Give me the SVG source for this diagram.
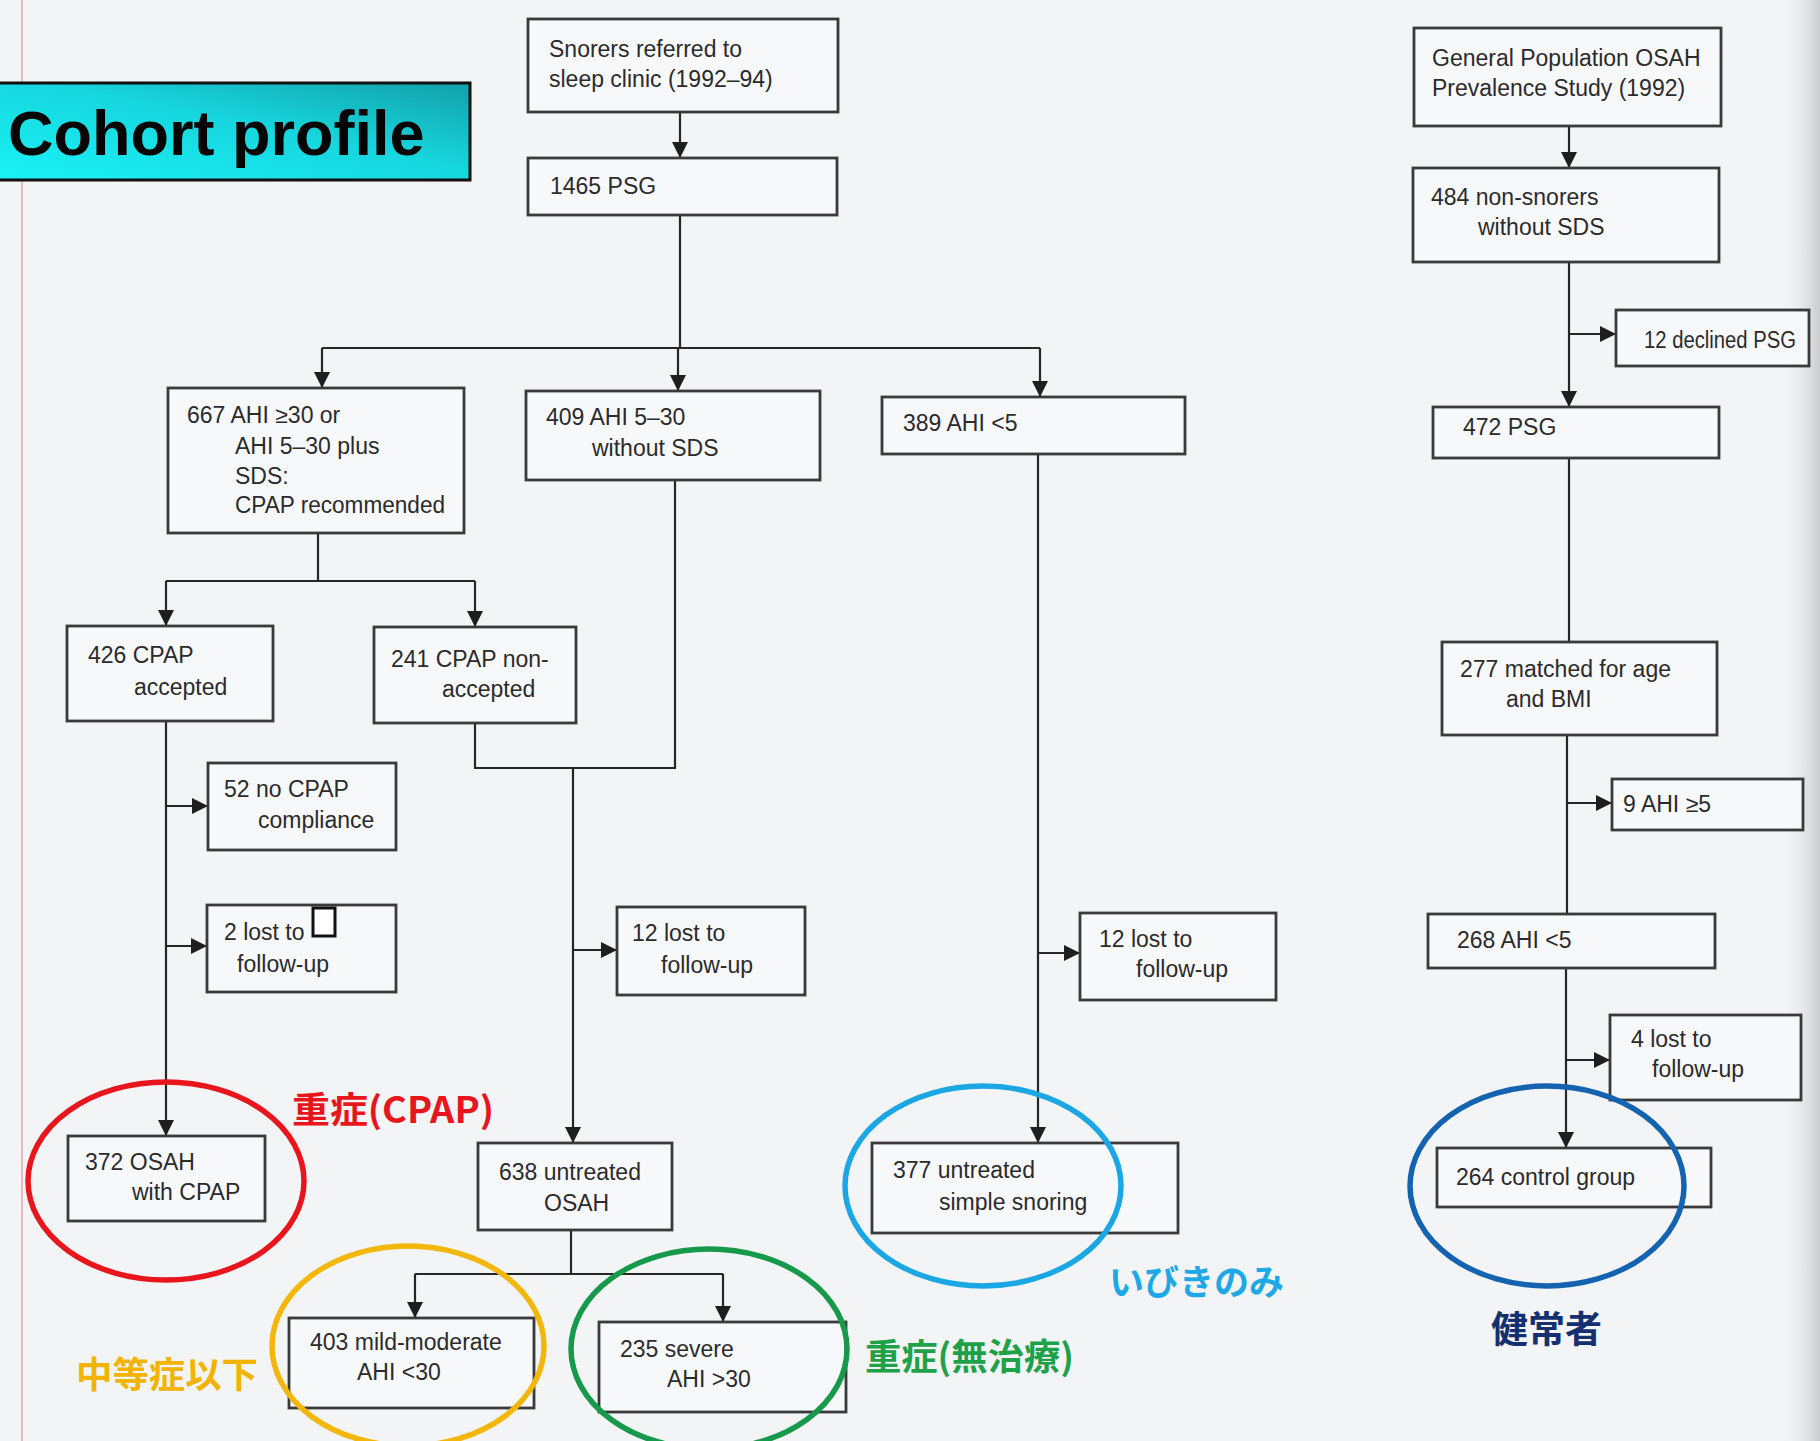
<svg xmlns="http://www.w3.org/2000/svg" width="1820" height="1441" viewBox="0 0 1820 1441">
<defs>
<linearGradient id="titleGrad" x1="0" y1="1" x2="1" y2="0">
<stop offset="0" stop-color="#1af2f6"/>
<stop offset="0.55" stop-color="#17d6de"/>
<stop offset="1" stop-color="#12a0a8"/>
</linearGradient>
<linearGradient id="edgeGrad" x1="0" y1="0" x2="1" y2="0">
<stop offset="0" stop-color="#f2f4f6" stop-opacity="0"/>
<stop offset="1" stop-color="#c9cbcd"/>
</linearGradient>
<marker id="arr" viewBox="0 0 16 16" refX="16" refY="8" markerWidth="16" markerHeight="16" markerUnits="userSpaceOnUse" orient="auto">
<path d="M0,0 L16,8 L0,16 Z" fill="#1e1e1e"/>
</marker>
<style>
.box{fill:#f7f8fa;stroke:#3a3a3a;stroke-width:2.8}
.t{font-family:"Liberation Sans","DejaVu Sans",sans-serif;font-size:23px;fill:#2b2b2b}
.ln{fill:none;stroke:#262626;stroke-width:2.2}
.ar{fill:none;stroke:#262626;stroke-width:2.2;marker-end:url(#arr)}
.ring{fill:none;stroke-width:5.5}
.jp{font-family:"Noto Sans CJK JP","Noto Sans",sans-serif;font-weight:bold}
</style>
</defs>
<rect x="0" y="0" width="1820" height="1441" fill="#f2f4f6"/>
<rect x="1780" y="0" width="40" height="1441" fill="url(#edgeGrad)"/>
<line x1="22" y1="0" x2="22" y2="1441" stroke="#e3b9c2" stroke-width="2"/>

<g id="title">
<rect x="-2" y="83" width="472" height="97" fill="url(#titleGrad)" stroke="#111" stroke-width="3"/>
<text x="8" y="155" font-family="Liberation Sans, Arial, sans-serif" font-weight="bold" font-size="63" fill="#050505">Cohort profile</text>
</g>

<g id="connectors">
<line class="ar" x1="680" y1="112" x2="680" y2="158"/>
<polyline class="ln" points="680,215 680,348"/>
<line class="ln" x1="322" y1="348" x2="1040" y2="348"/>
<line class="ar" x1="322" y1="348" x2="322" y2="388"/>
<line class="ar" x1="678" y1="348" x2="678" y2="391"/>
<line class="ar" x1="1040" y1="348" x2="1040" y2="397"/>

<polyline class="ln" points="318,533 318,581"/>
<line class="ln" x1="166" y1="581" x2="475" y2="581"/>
<line class="ar" x1="166" y1="581" x2="166" y2="626"/>
<line class="ar" x1="475" y1="581" x2="475" y2="627"/>

<line class="ar" x1="166" y1="721" x2="166" y2="1136"/>
<line class="ar" x1="166" y1="806" x2="208" y2="806"/>
<line class="ar" x1="166" y1="946" x2="207" y2="946"/>

<polyline class="ln" points="475,723 475,768 675,768 675,480"/>
<line class="ar" x1="573" y1="768" x2="573" y2="1143"/>
<line class="ar" x1="573" y1="950" x2="617" y2="950"/>

<polyline class="ln" points="571,1230 571,1274"/>
<line class="ln" x1="415" y1="1274" x2="723" y2="1274"/>
<line class="ar" x1="415" y1="1274" x2="415" y2="1318"/>
<line class="ar" x1="723" y1="1274" x2="723" y2="1322"/>

<line class="ar" x1="1038" y1="454" x2="1038" y2="1143"/>
<line class="ar" x1="1038" y1="953" x2="1080" y2="953"/>

<line class="ar" x1="1569" y1="126" x2="1569" y2="168"/>
<line class="ar" x1="1569" y1="262" x2="1569" y2="407"/>
<line class="ar" x1="1569" y1="334" x2="1616" y2="334"/>
<line class="ln" x1="1569" y1="458" x2="1569" y2="642"/>
<line class="ln" x1="1567" y1="735" x2="1567" y2="914"/>
<line class="ar" x1="1567" y1="803" x2="1612" y2="803"/>
<line class="ar" x1="1566" y1="968" x2="1566" y2="1148"/>
<line class="ar" x1="1566" y1="1060" x2="1610" y2="1060"/>
</g>

<g id="n-snorers"><rect class="box" x="528" y="19" width="310" height="93"/>
<text class="t" x="549" y="57">Snorers referred to</text>
<text class="t" x="549" y="87">sleep clinic (1992–94)</text></g>

<g id="n-1465"><rect class="box" x="528" y="158" width="309" height="57"/>
<text class="t" x="550" y="194">1465 PSG</text></g>

<g id="n-667"><rect class="box" x="168" y="388" width="296" height="145"/>
<text class="t" x="187" y="423">667 AHI ≥30 or</text>
<text class="t" x="235" y="454">AHI 5–30 plus</text>
<text class="t" x="235" y="484">SDS:</text>
<text class="t" x="235" y="513" textLength="210" lengthAdjust="spacingAndGlyphs">CPAP recommended</text></g>

<g id="n-409"><rect class="box" x="526" y="391" width="294" height="89"/>
<text class="t" x="546" y="425">409 AHI 5–30</text>
<text class="t" x="592" y="456">without SDS</text></g>

<g id="n-389"><rect class="box" x="882" y="397" width="303" height="57"/>
<text class="t" x="903" y="431">389 AHI &lt;5</text></g>

<g id="n-gen"><rect class="box" x="1414" y="28" width="307" height="98"/>
<text class="t" x="1432" y="66">General Population OSAH</text>
<text class="t" x="1432" y="96">Prevalence Study (1992)</text></g>

<g id="n-484"><rect class="box" x="1413" y="168" width="306" height="94"/>
<text class="t" x="1431" y="205">484 non-snorers</text>
<text class="t" x="1478" y="235">without SDS</text></g>

<g id="n-12d"><rect class="box" x="1616" y="310" width="193" height="56"/>
<text class="t" x="1644" y="348" textLength="152" lengthAdjust="spacingAndGlyphs">12 declined PSG</text></g>

<g id="n-472"><rect class="box" x="1433" y="407" width="286" height="51"/>
<text class="t" x="1463" y="435">472 PSG</text></g>

<g id="n-277"><rect class="box" x="1442" y="642" width="275" height="93"/>
<text class="t" x="1460" y="677">277 matched for age</text>
<text class="t" x="1506" y="707">and BMI</text></g>

<g id="n-9"><rect class="box" x="1612" y="779" width="191" height="51"/>
<text class="t" x="1623" y="812">9 AHI ≥5</text></g>

<g id="n-268"><rect class="box" x="1428" y="914" width="287" height="54"/>
<text class="t" x="1457" y="948">268 AHI &lt;5</text></g>

<g id="n-4"><rect class="box" x="1610" y="1015" width="191" height="85"/>
<text class="t" x="1631" y="1047">4 lost to</text>
<text class="t" x="1652" y="1077">follow-up</text></g>

<g id="n-264"><rect class="box" x="1437" y="1148" width="274" height="59"/>
<text class="t" x="1456" y="1185">264 control group</text></g>

<g id="n-426"><rect class="box" x="67" y="626" width="206" height="95"/>
<text class="t" x="88" y="663">426 CPAP</text>
<text class="t" x="134" y="695">accepted</text></g>

<g id="n-241"><rect class="box" x="374" y="627" width="202" height="96"/>
<text class="t" x="391" y="667">241 CPAP non-</text>
<text class="t" x="442" y="697">accepted</text></g>

<g id="n-52"><rect class="box" x="208" y="763" width="188" height="87"/>
<text class="t" x="224" y="797">52 no CPAP</text>
<text class="t" x="258" y="828">compliance</text></g>

<g id="n-2"><rect class="box" x="207" y="905" width="189" height="87"/>
<rect x="313" y="908" width="22" height="28" fill="#ffffff" stroke="#111" stroke-width="3"/>
<text class="t" x="224" y="940">2 lost to</text>
<text class="t" x="237" y="972">follow-up</text></g>

<g id="n-12m"><rect class="box" x="617" y="907" width="188" height="88"/>
<text class="t" x="632" y="941">12 lost to</text>
<text class="t" x="661" y="973">follow-up</text></g>

<g id="n-12r"><rect class="box" x="1080" y="913" width="196" height="87"/>
<text class="t" x="1099" y="947">12 lost to</text>
<text class="t" x="1136" y="977">follow-up</text></g>

<g id="n-372"><rect class="box" x="68" y="1136" width="197" height="85"/>
<text class="t" x="85" y="1170">372 OSAH</text>
<text class="t" x="132" y="1200">with CPAP</text></g>

<g id="n-638"><rect class="box" x="478" y="1143" width="194" height="87"/>
<text class="t" x="499" y="1180">638 untreated</text>
<text class="t" x="544" y="1211">OSAH</text></g>

<g id="n-377"><rect class="box" x="872" y="1143" width="306" height="90"/>
<text class="t" x="893" y="1178">377 untreated</text>
<text class="t" x="939" y="1210">simple snoring</text></g>

<g id="n-403"><rect class="box" x="289" y="1318" width="245" height="90"/>
<text class="t" x="310" y="1350">403 mild-moderate</text>
<text class="t" x="357" y="1380">AHI &lt;30</text></g>

<g id="n-235"><rect class="box" x="599" y="1322" width="247" height="90"/>
<text class="t" x="620" y="1357">235 severe</text>
<text class="t" x="667" y="1387">AHI &gt;30</text></g>

<g id="annotations">
<ellipse class="ring" cx="166" cy="1181" rx="138" ry="99" stroke="#e8161c"/>
<ellipse class="ring" cx="408" cy="1346" rx="136" ry="100" stroke="#f3b60a"/>
<ellipse class="ring" cx="709" cy="1349" rx="138" ry="100" stroke="#16994a"/>
<ellipse class="ring" cx="983" cy="1186" rx="138" ry="100" stroke="#1ba6e4"/>
<ellipse class="ring" cx="1547" cy="1186" rx="137" ry="100" stroke="#1463b0"/>
<text class="jp" x="292" y="1123" font-size="36" fill="#e8161c" textLength="202" lengthAdjust="spacingAndGlyphs">重症(CPAP)</text>
<text class="jp" x="76" y="1388" font-size="36" fill="#f2b400" textLength="182" lengthAdjust="spacingAndGlyphs">中等症以下</text>
<text class="jp" x="865" y="1370" font-size="36" fill="#1fa14a" textLength="209" lengthAdjust="spacingAndGlyphs">重症(無治療)</text>
<text class="jp" x="1109" y="1295" font-size="35" fill="#1ea8e6" textLength="175" lengthAdjust="spacingAndGlyphs">いびきのみ</text>
<text class="jp" x="1491" y="1343" font-size="37" fill="#14306e" textLength="111" lengthAdjust="spacingAndGlyphs">健常者</text>
</g>
</svg>
